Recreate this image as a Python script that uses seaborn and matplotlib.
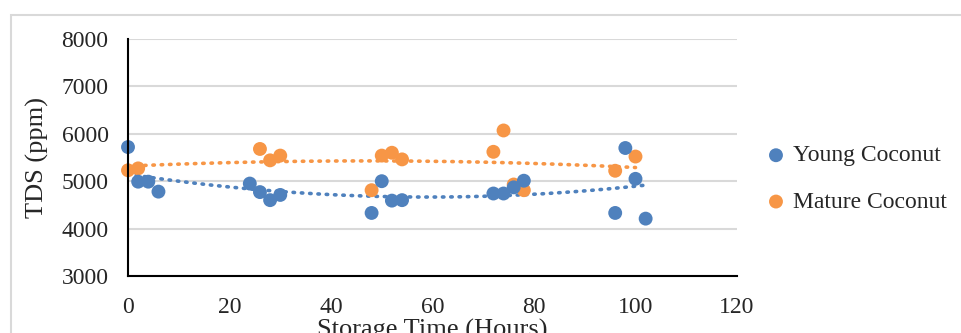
import numpy as np
import pandas as pd
import matplotlib
matplotlib.use("Agg")
import matplotlib.pyplot as plt
import seaborn as sns
from matplotlib.patches import Rectangle

young_time = [0, 2, 4, 6, 24, 26, 28, 30, 48, 50, 52, 54, 72, 74, 76, 78, 96, 98, 100, 102]
young_tds = [5720, 4990, 4990, 4780, 4950, 4770, 4600, 4710, 4330, 5000, 4590, 4600,
             4740, 4740, 4870, 5010, 4330, 5700, 5050, 4210]
mature_time = [0, 2, 26, 28, 30, 48, 50, 52, 54, 72, 74, 76, 78, 96, 100]
mature_tds = [5230, 5270, 5680, 5440, 5540, 4810, 5540, 5600, 5460, 5620, 6070, 4930,
              4810, 5220, 5520]

series_names = ["Young Coconut", "Mature Coconut"]
colors = ["#4F81BD", "#F79646"]
x_ticks = [0, 20, 40, 60, 80, 100, 120]
y_ticks = [3000, 4000, 5000, 6000, 7000, 8000]

df = pd.concat([
    pd.DataFrame({"time": young_time, "tds": young_tds, "series": series_names[0]}),
    pd.DataFrame({"time": mature_time, "tds": mature_tds, "series": series_names[1]}),
])

sns.set_style("white")
plt.rcParams["font.family"] = ["Liberation Serif", "DejaVu Serif"]

fig = plt.figure(figsize=(9.61, 3.33), dpi=100)
ax = fig.add_axes([0.1332, 0.1712, 0.6337, 0.7117])

# trendlines (polynomial order 2), drawn under the points
for name, t, v, c in [(series_names[1], mature_time, mature_tds, colors[1]),
                      (series_names[0], young_time, young_tds, colors[0])]:
    coef = np.polyfit(t, v, 2)
    xs = np.linspace(min(t), max(t), 200)
    sns.lineplot(x=xs, y=np.polyval(coef, xs), ax=ax, color=c, lw=2.6,
                 linestyle=(0, (0.4, 1.9)), zorder=2)
for ln in ax.lines:
    ln.set_dash_capstyle("round")

sns.scatterplot(data=df[df.series == series_names[1]], x="time", y="tds", ax=ax,
                color=colors[1], s=100, edgecolor="none", zorder=3, label=series_names[1],
                clip_on=False)
sns.scatterplot(data=df[df.series == series_names[0]], x="time", y="tds", ax=ax,
                color=colors[0], s=100, edgecolor="none", zorder=4, label=series_names[0],
                clip_on=False)

ax.set_xlim(0, 120)
ax.set_ylim(3000, 8000)
ax.set_xticks(x_ticks)
ax.set_yticks(y_ticks)
ax.tick_params(axis="both", labelsize=17, length=0)
ax.tick_params(axis="y", pad=14)
ax.tick_params(axis="x", pad=15)
ax.grid(axis="y", color="#D9D9D9", lw=1.5)
ax.set_axisbelow(True)
for s in ["top", "right"]:
    ax.spines[s].set_visible(False)
for s in ["left", "bottom"]:
    ax.spines[s].set_color("black")
    ax.spines[s].set_linewidth(1.5)
    ax.spines[s].set_zorder(5)

ax.set_ylabel("TDS (ppm)", fontsize=19, labelpad=9)
ax.set_xlabel("Storage Time (Hours)", fontsize=19, labelpad=1)

h, l = ax.get_legend_handles_labels()
order = [l.index(series_names[0]), l.index(series_names[1])]
leg = ax.legend([h[i] for i in order], [l[i] for i in order], loc="center left",
                bbox_to_anchor=(1.033, 0.41), frameon=False, fontsize=17,
                handlelength=0.8, handletextpad=0.3, labelspacing=1.05,
                borderaxespad=0)

fig.patches.append(Rectangle((11 / 961, -0.2), 1.2, 1 - 15 / 333 + 0.2,
                             transform=fig.transFigure, fill=False,
                             edgecolor="#D9D9D9", lw=1.5))

fig.savefig("out.png", dpi=100)
